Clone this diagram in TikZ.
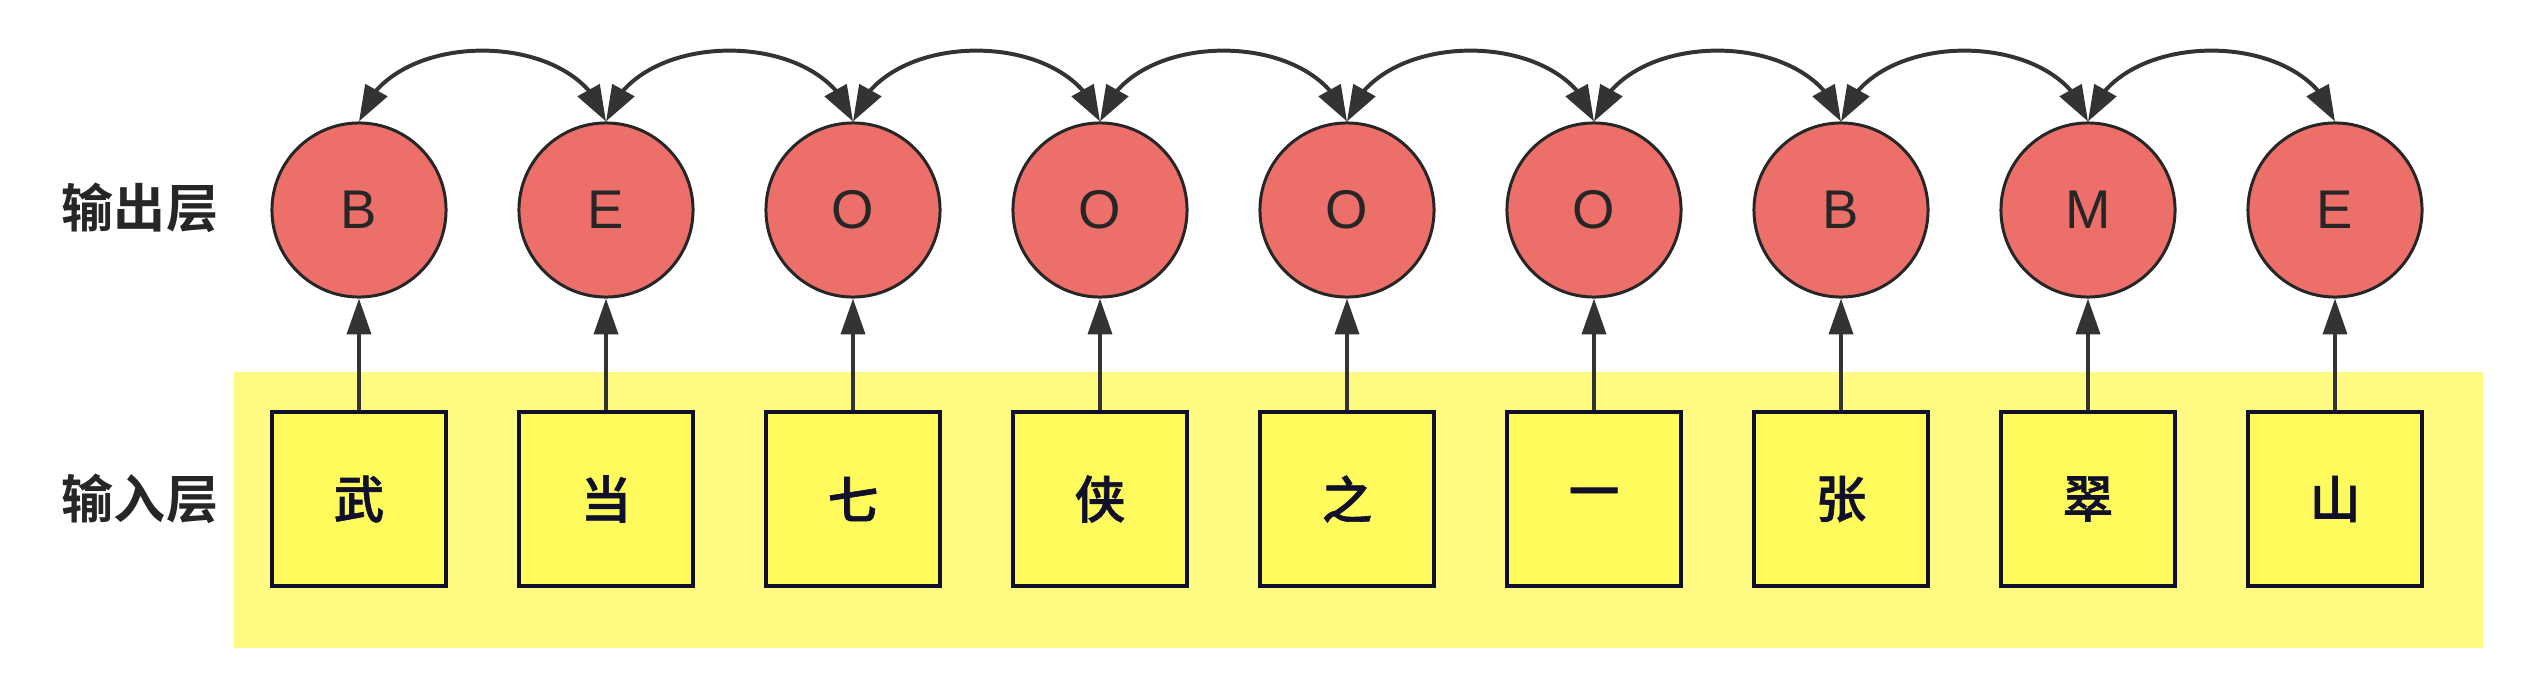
\documentclass[tikz,border=0pt]{standalone}
\usepackage{fontspec}
\setmainfont{Liberation Sans}
\newfontfamily\cjk{Noto Sans CJK SC Medium}[FakeBold=1.2]
\newfontfamily\cjkb{Noto Sans CJK SC Bold}
\usetikzlibrary{arrows.meta,bending}
\definecolor{cred}{HTML}{EC6F6A}
\definecolor{bfill}{HTML}{FFFB5C}
\definecolor{bgyel}{HTML}{FFFB82}
\definecolor{bnavy}{HTML}{10102A}
\definecolor{arr}{HTML}{333333}
\begin{document}
\begin{tikzpicture}[x=0.01cm,y=-0.01cm,
  outc/.style={circle, draw=black!85, line width=0.85pt, fill=cred, minimum size=1.74cm, inner sep=0pt, text=black!85, font=\fontsize{15.5}{15.5}\selectfont},
  inbox/.style={rectangle, draw=bnavy, line width=1.13pt, fill=bfill, minimum size=1.74cm, inner sep=0pt, text=bnavy, font=\cjk\fontsize{14.4}{14.4}\selectfont},
  lab/.style={inner sep=0pt, text=black!85, font=\cjkb\fontsize{14.8}{14.8}\selectfont},
  uplink/.style={line width=1.13pt, draw=arr, -{Triangle[length=10.2pt,width=6.8pt,fill=arr]}},
  toplink/.style={line width=1.13pt, draw=arr, {Triangle[length=10.2pt,width=7pt,fill=arr,flex]}-{Triangle[length=10.2pt,width=7pt,fill=arr,flex]}}]
\useasboundingbox (0,0) rectangle (2526,682);
\fill[bgyel] (234,372) rectangle (2483,648);
\node[lab] (lout) at (140,208) {输出层};
\node[lab] (lin) at (140,499) {输入层};
\foreach \i/\t/\c in {1/B/武,2/E/当,3/O/七,4/O/侠,5/O/之,6/O/一,7/B/张,8/M/翠,9/E/山}{
  \node[outc] (o\i) at ({359+247*(\i-1)},210) {\t};
  \node[inbox] (b\i) at ({359+247*(\i-1)},499) {\c};
  \draw[uplink] (b\i.north) -- (o\i.south);
}
\foreach \i [evaluate=\i as \j using int(\i+1)] in {1,...,8}{
  \draw[toplink] (o\i.north) to[out=74,in=106,looseness=1.02] (o\j.north);
}
\end{tikzpicture}
\end{document}
